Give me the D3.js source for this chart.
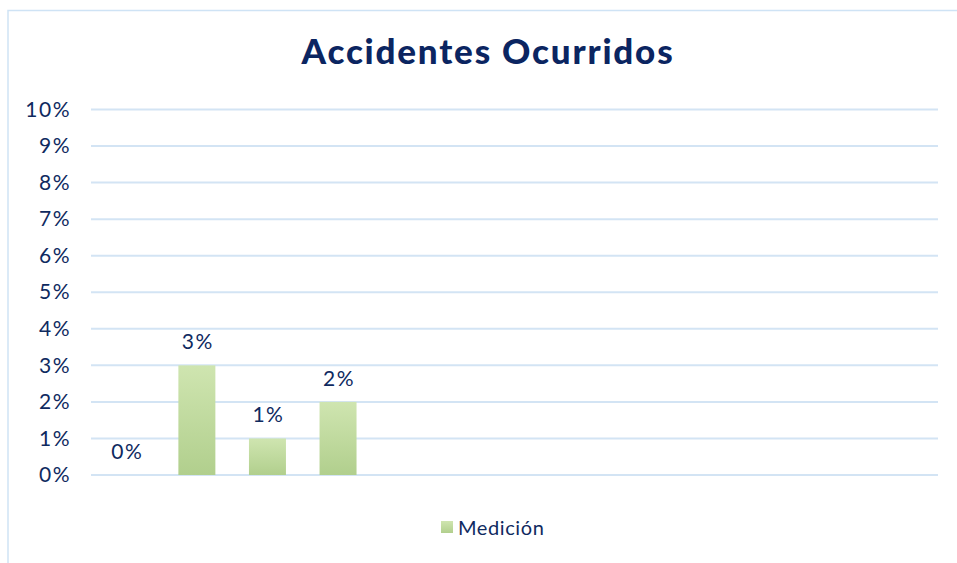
<!DOCTYPE html>
<html>
<head>
<meta charset="utf-8">
<script src="https://cdn.jsdelivr.net/npm/d3@7"></script>
<style>
  body { margin: 0; background: #fff; }
  text { font-family: "Century Gothic", "Lato", "DejaVu Sans", sans-serif; fill: #0f2a5f; }
</style>
</head>
<body>
<div id="chart"></div>
<script>
// categories (no labels shown on the axis in the original)
var categories = ["1", "2", "3", "4", "5", "6", "7", "8", "9", "10", "11", "12"];
// series values, only the first four have a measure
var values = [0, 0.03, 0.01, 0.02, null, null, null, null, null, null, null, null];
var seriesName = "Medición";
var yTicks = [0, 0.01, 0.02, 0.03, 0.04, 0.05, 0.06, 0.07, 0.08, 0.09, 0.10];

var width = 957, height = 563;
var margin = { left: 91, right: 19, top: 109.5, bottom: 88 };

var svg = d3.select("#chart").append("svg")
  .attr("width", width)
  .attr("height", height);

// gradient for the bars
var defs = svg.append("defs");
var grad = defs.append("linearGradient")
  .attr("id", "barGrad")
  .attr("x1", 0).attr("y1", 0).attr("x2", 0).attr("y2", 1);
grad.append("stop").attr("offset", "0%").attr("stop-color", "#cfe5b0");
grad.append("stop").attr("offset", "100%").attr("stop-color", "#b1cf8d");

// outer border of the chart area
svg.append("rect")
  .attr("x", 8).attr("y", 10.5)
  .attr("width", 980).attr("height", 600)
  .attr("fill", "none")
  .attr("stroke", "#cfe3f5")
  .attr("stroke-width", 1.5);

var x = d3.scaleBand()
  .domain(categories)
  .range([margin.left, width - margin.right])
  .paddingInner(0.476)
  .paddingOuter(0.238);

var y = d3.scaleLinear()
  .domain([0, 0.10])
  .range([height - margin.bottom, margin.top]);

// gridlines
svg.append("g")
  .selectAll("line")
  .data(yTicks)
  .enter()
  .append("line")
  .attr("x1", margin.left)
  .attr("x2", width - margin.right)
  .attr("y1", function (d) { return y(d); })
  .attr("y2", function (d) { return y(d); })
  .attr("stroke", "#d3e4f4")
  .attr("stroke-width", 2);

// y axis labels
var yAxis = d3.axisLeft(y)
  .tickValues(yTicks)
  .tickFormat(d3.format(".0%"))
  .tickSize(0)
  .tickPadding(20);

var gy = svg.append("g")
  .attr("transform", "translate(" + margin.left + ",0)")
  .call(yAxis);
gy.select(".domain").remove();
gy.selectAll("text")
  .attr("font-size", 21)
  .attr("letter-spacing", 1.5)
  .attr("fill", "#0f2a5f")
  .style("font-family", null);

var points = categories.map(function (c, i) { return { cat: c, v: values[i] }; })
  .filter(function (d) { return d.v !== null; });

// bars
svg.append("g")
  .selectAll("rect")
  .data(points)
  .enter()
  .append("rect")
  .attr("x", function (d) { return x(d.cat); })
  .attr("width", x.bandwidth())
  .attr("y", function (d) { return y(d.v); })
  .attr("height", function (d) { return y(0) - y(d.v); })
  .attr("fill", "url(#barGrad)");

// data labels
svg.append("g")
  .selectAll("text")
  .data(points)
  .enter()
  .append("text")
  .attr("x", function (d) { return x(d.cat) + x.bandwidth() / 2 + 1; })
  .attr("y", function (d) { return y(d.v) - 16; })
  .attr("text-anchor", "middle")
  .attr("font-size", 21)
  .attr("letter-spacing", 1.5)
  .text(function (d) { return d3.format(".0%")(d.v); });

// title
svg.append("text")
  .attr("x", 488)
  .attr("y", 64)
  .attr("text-anchor", "middle")
  .attr("font-size", 35)
  .attr("font-weight", 900)
  .attr("letter-spacing", 1.8)
  .style("fill", "#0b2561")
  .text("Accidentes Ocurridos");

// legend
var legend = svg.append("g").attr("transform", "translate(441,521)");
legend.append("rect")
  .attr("width", 12).attr("height", 12)
  .attr("fill", "url(#barGrad)");
legend.append("text")
  .attr("x", 17)
  .attr("y", 13.5)
  .attr("font-size", 20)
  .attr("letter-spacing", 0.6)
  .text(seriesName);
</script>
</body>
</html>
